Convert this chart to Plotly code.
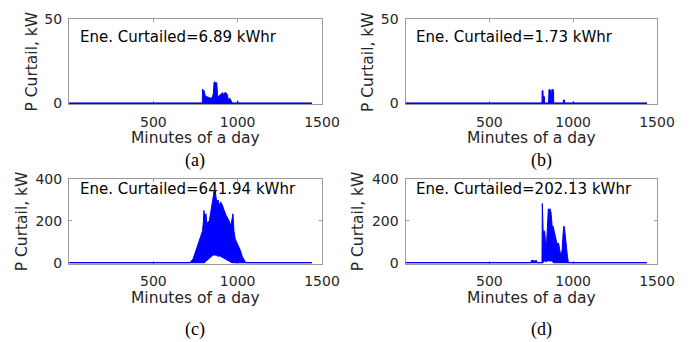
import plotly.graph_objects as go

# ---------------- data ----------------
x_ticks = [500, 1000, 1500]

a_min = [1, 790, 792, 795, 800, 804, 808, 815, 822, 830, 840, 850, 856, 860, 864, 870,
         876, 880, 884, 890, 897, 905, 912, 918, 925, 930, 937, 943, 948, 955, 962, 966,
         968, 998, 1000, 1002, 1440]
a_upper = [0, 0, 8.5, 7.0, 7.8, 5.0, 4.5, 4.0, 3.6, 3.2, 3.0, 3.5, 6.0, 12.4, 12.8, 12.0,
           12.2, 6.0, 3.0, 4.5, 5.0, 5.5, 6.3, 4.5, 6.5, 6.3, 5.5, 3.0, 2.5, 2.8, 1.2, 0.5,
           0, 0, 1.5, 0, 0]
a_lower = [0] * len(a_min)

b_min = [1, 814, 815, 820, 821, 822, 828, 829, 853, 854, 856, 862, 865, 866, 870, 872,
         873, 880, 883, 884, 941, 942, 948, 949, 1000, 1001, 1002, 1440]
b_upper = [0, 0, 7.5, 7.5, 3, 4, 4, 0, 0, 7.5, 8.2, 8.2, 7.5, 2, 2, 7.5,
           8.2, 8.2, 7.5, 0, 0, 2, 2, 0, 0, 1, 0, 0]
b_lower = [0] * len(b_min)

c_min = [1, 716, 736, 756, 776, 792, 797, 800, 805, 812, 817, 822, 832, 840, 846, 852,
         860, 866, 872, 876, 884, 892, 900, 906, 912, 916, 924, 932, 940, 946, 954, 960,
         966, 972, 978, 986, 996, 1006, 1016, 1026, 1036, 1046, 1056, 1440]
c_upper = [0, 0, 19, 65, 113, 153, 200, 250, 215, 234, 190, 194, 200, 240, 274, 300,
           339, 345, 320, 290, 300, 274, 290, 282, 270, 258, 240, 226, 215, 200, 190, 177,
           200, 234, 150, 113, 95, 80, 60, 32, 15, 3, 0, 0]
c_lower = [0, 0, 0, 0, 0, 0, 0, 0, 5, 10, 15, 20, 28, 32, 36, 38,
           40, 38, 40, 36, 32, 36, 32, 28, 28, 24, 22, 18, 14, 10, 6, 4,
           2, 0, 0, 0, 0, 0, 0, 0, 0, 0, 0, 0]

d_min = [1, 748, 750, 760, 770, 780, 785, 814, 816, 818, 822, 826, 830, 834, 838, 842,
         848, 852, 856, 862, 868, 872, 876, 880, 886, 892, 898, 904, 910, 914, 918, 922,
         928, 934, 940, 944, 948, 952, 956, 960, 966, 972, 1440]
d_upper = [0, 0, 10, 12, 8, 12, 0, 0, 283, 180, 120, 153, 150, 110, 60, 100,
           200, 258, 250, 258, 240, 180, 160, 175, 150, 130, 110, 90, 95, 90, 70, 50,
           45, 60, 140, 175, 170, 120, 80, 75, 30, 0, 0]
d_lower = [0, 0, 0, 0, 0, 0, 0, 0, 0, 0, 8, 12, 10, 15, 5, 10,
           15, 12, 10, 15, 10, 12, 8, 5, 0, 0, 0, 0, 0, 0, 0, 0,
           0, 0, 0, 0, 0, 0, 0, 0, 0, 0, 0]

energy_labels = ["Ene. Curtailed=6.89 kWhr", "Ene. Curtailed=1.73 kWhr",
                 "Ene. Curtailed=641.94 kWhr", "Ene. Curtailed=202.13 kWhr"]
captions = ["(a)", "(b)", "(c)", "(d)"]
y_ranges = [[0, 50], [0, 50], [0, 400], [0, 400]]
y_ticks = [[0, 50], [0, 50], [0, 200, 400], [0, 200, 400]]

series = [(a_min, a_upper, a_lower), (b_min, b_upper, b_lower),
          (c_min, c_upper, c_lower), (d_min, d_upper, d_lower)]

# ---------------- layout geometry ----------------
# the page body keeps its default 8px margin, so the figure is drawn
# 8px smaller and all screen positions below are offset by that margin
OFF = 8
W, H = 691 - OFF, 342 - OFF
BLUE = "#0000FF"
GRAY = "#9a9a9a"
TXT = "#262626"
FONT = "DejaVu Sans"

# box screen-pixel edges: (left, right, top, bottom)
boxes = [(69, 322, 19, 104), (405.5, 657, 19, 104),
         (69, 322, 179, 263.5), (405.5, 657, 179, 263.5)]
ytitle_x = [31, 367.5, 22, 358]
caption_xy = [(195, 160), (541, 160), (195, 329), (541, 329)]

def px(x):
    return (x - OFF) / W

def py(y):
    return 1 - (y - OFF) / H

fig = go.Figure()
layout = dict(template="none", width=W, height=H,
              margin=dict(l=0, r=0, t=0, b=0, pad=0, autoexpand=False),
              paper_bgcolor="white", plot_bgcolor="white", showlegend=False)
annotations = []

for i, ((mins, up, lo), box) in enumerate(zip(series, boxes)):
    n = "" if i == 0 else str(i + 1)
    xa, ya = "x" + n, "y" + n
    fig.add_trace(go.Scatter(x=mins, y=lo, mode="lines", xaxis=xa, yaxis=ya,
                             line=dict(color=BLUE, width=1.5), hoverinfo="skip"))
    fig.add_trace(go.Scatter(x=mins, y=up, mode="lines", xaxis=xa, yaxis=ya,
                             fill="tonexty", fillcolor=BLUE,
                             line=dict(color=BLUE, width=1), hoverinfo="skip"))
    l, r, t, b = box
    yr = y_ranges[i]
    pad = (yr[1] - yr[0]) * 0.008
    common = dict(showline=True, linecolor=GRAY, linewidth=1, mirror="ticks",
                  ticks="inside", ticklen=3, tickcolor=GRAY, showgrid=False,
                  zeroline=False, layer="below traces", automargin=False,
                  tickfont=dict(family=FONT, size=14, color=TXT))
    layout["xaxis" + n] = dict(domain=[px(l), px(r)], range=[0, 1500],
                               tickvals=x_ticks, anchor=ya, ticklabelstandoff=5,
                               **common)
    layout["yaxis" + n] = dict(domain=[py(b), py(t)], range=[yr[0] - pad, yr[1]],
                               tickvals=y_ticks[i], anchor=xa, ticklabelstandoff=3,
                               **common)
    # x title
    annotations.append(dict(text="Minutes of a day", x=px((l + r) / 2), y=py(b + 34),
                            xref="paper", yref="paper", showarrow=False,
                            xanchor="center", yanchor="middle",
                            font=dict(family=FONT, size=15.5, color=TXT)))
    # y title
    annotations.append(dict(text="P Curtail, kW", x=px(ytitle_x[i]), y=py((t + b) / 2),
                            xref="paper", yref="paper", showarrow=False, textangle=-90,
                            xanchor="center", yanchor="middle",
                            font=dict(family=FONT, size=15.5, color=TXT)))
    # energy text
    ty = t + 18 if i < 2 else t + 10
    annotations.append(dict(text=energy_labels[i], x=px(l + 8.5), y=py(ty),
                            xref="paper", yref="paper", showarrow=False,
                            xanchor="left", yanchor="middle",
                            font=dict(family=FONT, size=15, color="black")))
    cx, cy = caption_xy[i]
    annotations.append(dict(text=captions[i], x=px(cx), y=py(cy),
                            xref="paper", yref="paper", showarrow=False,
                            xanchor="center", yanchor="middle",
                            font=dict(family="Liberation Serif", size=18, color="black")))

layout["annotations"] = annotations
fig.update_layout(**layout)
fig.write_html("out.html")
